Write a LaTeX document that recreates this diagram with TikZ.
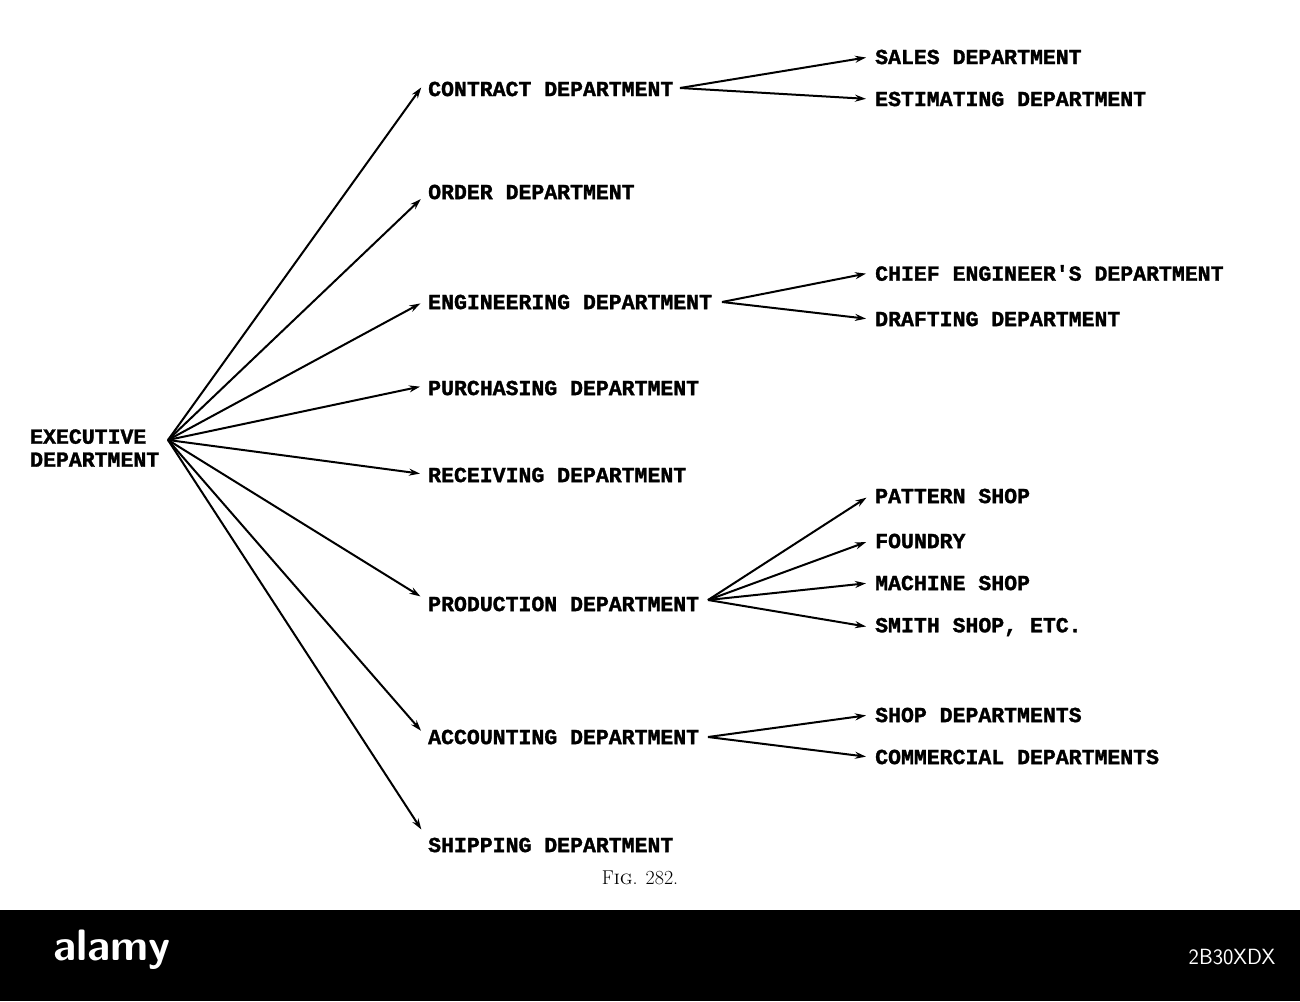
\documentclass[tikz,border=0pt]{standalone}
\usepackage{fontspec}
\newfontfamily\tw{Liberation Mono}[FakeBold=1.5]
\usetikzlibrary{arrows.meta}
\begin{document}
\begin{tikzpicture}[x=1pt,y=-1pt,
  lab/.style={anchor=west,inner sep=0pt,font=\tw\bfseries\fontsize{21.5}{23}\selectfont},
  con/.style={line width=2pt,-{Stealth[length=11pt,width=7pt]},shorten >=3pt}]
\useasboundingbox (0,0) rectangle (1300,1001);
\fill[white] (0,0) rectangle (1300,910);
\fill[black] (0,910) rectangle (1300,1001);
\node[lab,align=left] (exec) at (30,448) {EXECUTIVE\\DEPARTMENT};
\coordinate (src) at (168,440);
\node[lab] (contract) at (428,89) {CONTRACT DEPARTMENT};
\node[lab] (order) at (428,192) {ORDER DEPARTMENT};
\node[lab] (eng) at (428,302) {ENGINEERING DEPARTMENT};
\node[lab] (purch) at (428,388) {PURCHASING DEPARTMENT};
\node[lab] (recv) at (428,475) {RECEIVING DEPARTMENT};
\node[lab] (prod) at (428,604) {PRODUCTION DEPARTMENT};
\node[lab] (acct) at (428,737) {ACCOUNTING DEPARTMENT};
\node[lab] (ship) at (428,845) {SHIPPING DEPARTMENT};
\node[lab] (sales) at (875,57) {SALES DEPARTMENT};
\node[lab] (est) at (875,99) {ESTIMATING DEPARTMENT};
\node[lab] (chief) at (875,273) {CHIEF ENGINEER'S DEPARTMENT};
\node[lab] (draft) at (875,319) {DRAFTING DEPARTMENT};
\node[lab] (patt) at (875,496) {PATTERN SHOP};
\node[lab] (found) at (875,541) {FOUNDRY};
\node[lab] (mach) at (875,583) {MACHINE SHOP};
\node[lab] (smith) at (875,627) {SMITH SHOP, ETC.};
\node[lab] (shop) at (875,715) {SHOP DEPARTMENTS};
\node[lab] (comm) at (875,757) {COMMERCIAL DEPARTMENTS};
\foreach \t/\yy in {contract/85,order/197,eng/302,purch/386,recv/474,prod/598,acct/733,ship/832}
  \draw[con] (src) -- ([xshift=-5pt]\t.west |- 0,\yy);
\coordinate (cs) at (680,88);
\draw[con] (cs) -- ([xshift=-6pt]sales.west);
\draw[con] (cs) -- ([xshift=-6pt]est.west);
\coordinate (es) at (722,302);
\draw[con] (es) -- ([xshift=-6pt]chief.west);
\draw[con] (es) -- ([xshift=-6pt]draft.west);
\coordinate (ps) at (708,600);
\foreach \t in {patt,found,mach,smith} \draw[con] (ps) -- ([xshift=-6pt]\t.west);
\coordinate (as) at (708,737);
\draw[con] (as) -- ([xshift=-6pt]shop.west);
\draw[con] (as) -- ([xshift=-6pt]comm.west);
\node[font=\rmfamily\fontsize{20}{22}\selectfont] (fig) at (640,878) {F\textsc{ig}. 282.};
\node[white,font=\sffamily\bfseries\fontsize{44}{46}\selectfont] (logo) at (112,950) {alamy};
\node[white,font=\sffamily\fontsize{22}{24}\selectfont] (code) at (1232,957) {2B30XDX};
\end{tikzpicture}
\end{document}
